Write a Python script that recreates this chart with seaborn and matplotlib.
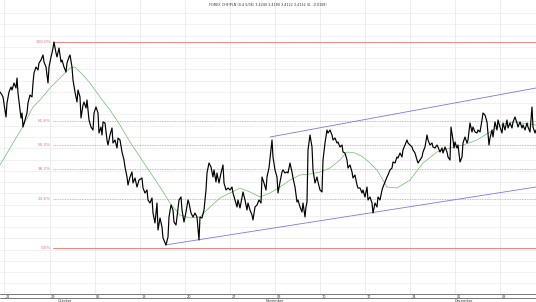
import numpy as np
import pandas as pd
import matplotlib
matplotlib.use("Agg")
import matplotlib.pyplot as plt
import matplotlib.transforms as mtransforms
from matplotlib.lines import Line2D
import seaborn as sns

# ---------------- data ----------------
bars = [
    0, 2, 3, 5, 6, 7, 9, 11, 12, 14,
    16, 17, 18, 20, 21, 22, 23, 25, 27, 28,
    30, 32, 33, 34, 36, 38, 39, 41, 43, 44,
    46, 48, 49, 51, 52, 53, 54, 56, 57, 59,
    61, 62, 64, 66, 67, 69, 70, 72, 73, 75,
    77, 78, 80, 81, 83, 84, 86, 87, 89, 91,
    93, 94, 96, 98, 99, 101, 102, 103, 105, 107,
    108, 110, 112, 113, 115, 117, 118, 120, 122, 124,
    125, 127, 128, 130, 132, 133, 135, 137, 139, 142,
    143, 145, 147, 148, 150, 152, 153, 155, 157, 158,
    160, 162, 163, 166, 168, 169, 171, 173, 174, 176,
    177, 179, 181, 182, 184, 186, 188, 189, 191, 193,
    195, 197, 199, 200, 202, 204, 206, 207, 209, 211,
    213, 214, 216, 217, 219, 221, 223, 224, 226, 228,
    230, 232, 233, 235, 237, 238, 240, 242, 243, 245,
    247, 248, 250, 252, 253, 255, 257, 259, 261, 262,
    264, 266, 267, 269, 271, 272, 273, 275, 277, 278,
    280, 282, 283, 285, 287, 288, 290, 292, 293, 295,
    297, 298, 300, 302, 303, 305, 306, 307, 308, 310,
    312, 313, 315, 317, 318, 320, 322, 323, 325, 327,
    328, 330, 332, 333, 335, 337, 338, 340, 342, 343,
    345, 347, 348, 350, 352, 353, 355, 357, 358, 360,
    362, 363, 365, 367, 368, 370, 372, 373, 375, 377,
    378, 380, 382, 383, 385, 387, 388, 390, 392, 393,
    395, 397, 398, 400, 402, 403, 405, 407, 408, 410,
    412, 413, 415, 417, 418, 420, 422, 423, 425, 427,
    428, 430, 432, 433, 435, 437, 438, 440, 442, 443,
    445, 447, 448, 450, 451, 453, 454, 455, 457, 458,
    460, 462, 463, 465, 467, 468, 470, 472, 473, 475,
    477, 478, 480, 482, 483, 485, 487, 488, 489, 490,
    492, 493, 495, 497, 498, 500, 502, 503, 505, 507,
    508, 510, 512, 513, 515, 517, 518, 520, 522, 523,
    525, 527, 528, 530, 532, 533, 535, 536,
]
close = [
    3.556, 3.553, 3.551, 3.538, 3.531, 3.545, 3.556, 3.561, 3.558, 3.565,
    3.560, 3.570, 3.555, 3.538, 3.530, 3.535, 3.521, 3.528, 3.535, 3.545,
    3.553, 3.551, 3.565, 3.575, 3.581, 3.578, 3.585, 3.588, 3.593, 3.586,
    3.581, 3.565, 3.581, 3.591, 3.595, 3.600, 3.606, 3.595, 3.591, 3.600,
    3.586, 3.588, 3.581, 3.576, 3.585, 3.591, 3.593, 3.581, 3.568, 3.556,
    3.546, 3.558, 3.551, 3.530, 3.543, 3.546, 3.540, 3.548, 3.528, 3.521,
    3.518, 3.535, 3.541, 3.535, 3.515, 3.521, 3.513, 3.526, 3.525, 3.508,
    3.503, 3.513, 3.520, 3.505, 3.508, 3.500, 3.510, 3.508, 3.496, 3.488,
    3.481, 3.471, 3.463, 3.471, 3.476, 3.465, 3.470, 3.461, 3.468, 3.470,
    3.460, 3.455, 3.458, 3.448, 3.445, 3.450, 3.435, 3.425, 3.445, 3.418,
    3.430, 3.421, 3.410, 3.403, 3.411, 3.431, 3.443, 3.438, 3.426, 3.423,
    3.431, 3.448, 3.451, 3.438, 3.426, 3.436, 3.448, 3.445, 3.435, 3.431,
    3.435, 3.431, 3.408, 3.431, 3.430, 3.438, 3.458, 3.475, 3.485, 3.481,
    3.471, 3.478, 3.466, 3.475, 3.465, 3.475, 3.483, 3.465, 3.458, 3.460,
    3.458, 3.461, 3.455, 3.448, 3.441, 3.448, 3.440, 3.451, 3.456, 3.448,
    3.438, 3.445, 3.438, 3.433, 3.428, 3.441, 3.443, 3.448, 3.445, 3.471,
    3.465, 3.458, 3.471, 3.480, 3.498, 3.508, 3.491, 3.478, 3.471, 3.455,
    3.466, 3.476, 3.478, 3.475, 3.476, 3.475, 3.485, 3.476, 3.470, 3.461,
    3.446, 3.448, 3.441, 3.436, 3.445, 3.431, 3.441, 3.446, 3.498, 3.513,
    3.501, 3.478, 3.465, 3.471, 3.466, 3.458, 3.456, 3.488, 3.505, 3.518,
    3.515, 3.518, 3.513, 3.508, 3.510, 3.505, 3.506, 3.501, 3.503, 3.496,
    3.495, 3.488, 3.480, 3.483, 3.476, 3.470, 3.473, 3.463, 3.460, 3.460,
    3.455, 3.458, 3.451, 3.461, 3.448, 3.451, 3.445, 3.435, 3.445, 3.441,
    3.451, 3.448, 3.458, 3.461, 3.466, 3.471, 3.473, 3.478, 3.480, 3.486,
    3.485, 3.491, 3.490, 3.495, 3.491, 3.498, 3.503, 3.508, 3.505, 3.503,
    3.501, 3.498, 3.495, 3.488, 3.485, 3.488, 3.491, 3.496, 3.501, 3.513,
    3.508, 3.503, 3.505, 3.501, 3.500, 3.503, 3.501, 3.496, 3.500, 3.495,
    3.501, 3.496, 3.491, 3.488, 3.521, 3.508, 3.500, 3.506, 3.500, 3.503,
    3.486, 3.491, 3.505, 3.511, 3.505, 3.508, 3.525, 3.516, 3.521, 3.516,
    3.515, 3.518, 3.516, 3.528, 3.535, 3.533, 3.526, 3.515, 3.503, 3.510,
    3.518, 3.511, 3.526, 3.518, 3.528, 3.521, 3.515, 3.525, 3.518, 3.528,
    3.520, 3.525, 3.520, 3.526, 3.531, 3.525, 3.521, 3.526, 3.520, 3.523,
    3.518, 3.525, 3.521, 3.516, 3.541, 3.521, 3.515, 3.518,
]

ma_bars = [0, 10, 22, 33, 40, 50, 60, 70, 75, 83, 90, 100, 110, 120, 130,
           140, 150, 160, 170, 180, 190, 200, 210, 220, 230, 240, 250, 260,
           270, 280, 290, 300, 310, 320, 330, 340, 347, 355, 363, 370, 377,
           387, 397, 410, 423, 437, 450, 463, 477, 490, 503, 515, 536]
ma_values = [3.483, 3.500, 3.520, 3.541, 3.548, 3.560, 3.570, 3.580, 3.581,
             3.573, 3.565, 3.551, 3.538, 3.523, 3.506, 3.491, 3.476, 3.461,
             3.445, 3.433, 3.430, 3.431, 3.441, 3.450, 3.455, 3.460, 3.456,
             3.451, 3.455, 3.461, 3.468, 3.473, 3.474, 3.476, 3.480, 3.488,
             3.496, 3.495, 3.491, 3.485, 3.478, 3.461, 3.460, 3.468, 3.485,
             3.496, 3.500, 3.503, 3.508, 3.516, 3.524, 3.526, 3.523]

fib_low = 3.400
fib_high = 3.606
fib_ratios = [1.0, 0.618, 0.5, 0.382, 0.236, 0.0]
fib_labels = ["100.0%", "61.8%", "50.0%", "38.2%", "23.6%", "0.0%"]
fib_start_bar = 53

upper_channel_bars = [270, 536]
upper_channel_values = [3.511, 3.560]
lower_channel_bars = [165, 536]
lower_channel_values = [3.403, 3.461]

tick_bars = [4, 49.5, 94.5, 140, 185, 230, 275, 320, 365, 410, 455, 500]
tick_labels = ["22", "29", "06", "13", "20", "27", "03", "10", "17", "24", "01", "08"]
month_bars = [58, 266, 455]
month_labels = ["October", "November", "December"]

title = "FOREX CHF/PLN (0.4 5/06) 3.4240 3.4180 3.4122 3.4132 (0, -0.0108)"

# ---------------- plot ----------------
sns.set_style("white")
plt.rcParams['font.family'] = ['DejaVu Sans']

W, H = 536, 302
fig = plt.figure(figsize=(W / 100, H / 100), dpi=100)
ax = fig.add_axes([0, 8 / H, 1, 294 / H])

y_top, y_bot = 3.648, 3.648 - 0.294
ax.set_xlim(0, 536)
ax.set_ylim(y_bot, y_top)

# light grid
for gy in np.arange(3.648 - 0.013, y_bot, -0.01127):
    ax.axhline(gy, color="#ebebeb", lw=0.5, zorder=0)
for tb in tick_bars:
    ax.axvline(tb, color="#e6e6e6", lw=0.5, zorder=0)

fib_color = "#f07070"
for r, lab in zip(fib_ratios, fib_labels):
    lvl = fib_low + r * (fib_high - fib_low)
    if r in (0.0, 1.0):
        ax.plot([fib_start_bar, 536], [lvl, lvl], color=fib_color, lw=0.6,
                ls="-", zorder=1)
    else:
        ax.plot([fib_start_bar, 536], [lvl, lvl], color="#f08a8a", lw=0.6,
                ls=(0, (1.0, 1.0)), zorder=1)
    ax.text(51, lvl, lab, color=fib_color, fontsize=3, ha="right",
            va="center")

ax.plot(upper_channel_bars, upper_channel_values, color="#7b78e6", lw=0.6, zorder=2)
ax.plot(lower_channel_bars, lower_channel_values, color="#7b78e6", lw=0.6, zorder=2)

df_ma = pd.DataFrame({"bar": ma_bars, "value": ma_values})
sns.lineplot(data=df_ma, x="bar", y="value", ax=ax, color="#6cbc6c", lw=0.5,
             zorder=3, estimator=None, sort=False)

df = pd.DataFrame({"bar": bars, "close": close})
sns.lineplot(data=df, x="bar", y="close", ax=ax, color="black", lw=0.85,
             zorder=4, estimator=None, sort=False)

ax.set_xlabel("")
ax.set_ylabel("")
ax.set_yticks([])
for s in ["top", "left", "right"]:
    ax.spines[s].set_visible(False)
ax.spines["bottom"].set_color("#444444")
ax.spines["bottom"].set_linewidth(0.5)

ax.set_xticks(tick_bars)
ax.set_xticklabels(tick_labels, fontsize=2.5, color="#333333")
ax.tick_params(axis="x", direction="out", length=3, width=0.5,
               color="#444444", pad=-2.2)
offset = mtransforms.ScaledTranslation(1.5 / 100, 0, fig.dpi_scale_trans)
for lab in ax.get_xticklabels():
    lab.set_ha("left")
    lab.set_transform(lab.get_transform() + offset)

# lower border of the date strip
fig.add_artist(Line2D([0, 1], [(H - 298) / H, (H - 298) / H],
                      color="#444444", lw=0.5))

trans = mtransforms.blended_transform_factory(ax.transData, fig.transFigure)
for mb, ml in zip(month_bars, month_labels):
    ax.text(mb, (H - 300.5) / H, ml, transform=trans, fontsize=2.5,
            ha="left", va="center", color="#333333")

fig.text(0.5, (H - 5) / H, title, fontsize=2.4, ha="center", va="center",
         color="#333333")

fig.savefig("out.png", dpi=100)
